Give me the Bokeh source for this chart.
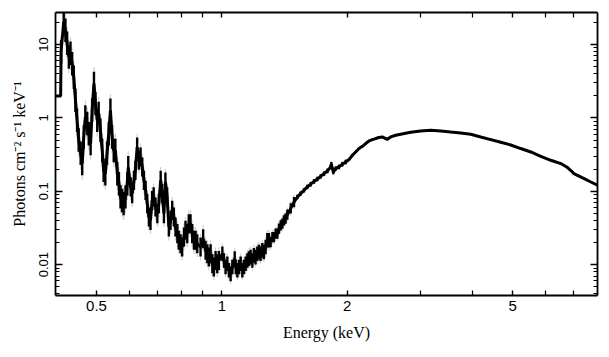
import numpy as np
from bokeh.plotting import figure
from bokeh.models import LogAxis, FixedTicker, CustomJSTickFormatter, Range1d, ColumnDataSource
from bokeh.embed import file_html
from bokeh.resources import INLINE

# ---- data ----
energy_kev = [
    0.399, 0.410, 0.411, 0.417, 0.421, 0.425, 0.429, 0.433, 0.437, 0.441,
    0.445, 0.449, 0.453, 0.458, 0.462, 0.466, 0.470, 0.475, 0.479, 0.484,
    0.488, 0.493, 0.497, 0.502, 0.506, 0.511, 0.516, 0.520, 0.525, 0.530,
    0.535, 0.540, 0.545, 0.550, 0.555, 0.561, 0.566, 0.571, 0.576, 0.581,
    0.587, 0.593, 0.596, 0.604, 0.609, 0.615, 0.620, 0.626, 0.632, 0.638,
    0.644, 0.650, 0.656, 0.662, 0.668, 0.674, 0.680, 0.686, 0.693, 0.700,
    0.706, 0.713, 0.719, 0.726, 0.732, 0.739, 0.746, 0.753, 0.760, 0.767,
    0.774, 0.782, 0.788, 0.796, 0.803, 0.811, 0.818, 0.826, 0.833, 0.841,
    0.849, 0.857, 0.865, 0.873, 0.889, 0.902, 0.914, 0.923, 0.931, 0.940,
    0.949, 0.957, 0.966, 0.975, 0.984, 1.003, 1.012, 1.021, 1.031, 1.040,
    1.050, 1.060, 1.074, 1.080, 1.090, 1.100, 1.110, 1.120, 1.130, 1.141,
    1.152, 1.162, 1.173, 1.184, 1.194, 1.205, 1.217, 1.228, 1.239, 1.251,
    1.262, 1.274, 1.286, 1.298, 1.310, 1.323, 1.334, 1.347, 1.360, 1.372,
    1.385, 1.398, 1.410, 1.423, 1.437, 1.464, 1.491, 1.519, 1.546, 1.575,
    1.605, 1.635, 1.665, 1.697, 1.728, 1.760, 1.793, 1.826, 1.833, 1.853,
    1.877, 1.912, 1.948, 1.984, 2.021, 2.059, 2.097, 2.136, 2.176, 2.216,
    2.257, 2.300, 2.342, 2.385, 2.430, 2.475, 2.498, 2.545, 2.616, 2.690,
    2.843, 3.004, 3.177, 3.357, 3.548, 3.750, 3.962, 4.189, 4.427, 4.680,
    4.945, 5.226, 5.525, 5.840, 6.171, 6.522, 6.769, 6.959, 7.010, 7.153,
    7.421, 7.700, 7.989,
]
photon_flux = [
    2.0, 2.0, 8.0, 20.4, 15.7, 10.4, 6.8, 7.6, 5.5, 3.6,
    1.74, 0.93, 0.50, 0.33, 0.24, 0.55, 1.03, 0.84, 0.61, 0.45,
    1.27, 2.95, 1.57, 0.93, 1.15, 0.68, 0.36, 0.193, 0.174, 0.33,
    0.61, 1.27, 0.55, 0.36, 0.36, 0.174, 0.127, 0.084, 0.075, 0.068,
    0.084, 0.127, 0.21, 0.115, 0.093, 0.141, 0.193, 0.40, 0.265, 0.294,
    0.215, 0.141, 0.103, 0.068, 0.0446, 0.0402, 0.075, 0.084, 0.061, 0.0496,
    0.068, 0.141, 0.093, 0.0496, 0.134, 0.084, 0.0326, 0.0402, 0.055, 0.0446,
    0.0326, 0.0265, 0.0215, 0.0193, 0.0174, 0.0238, 0.0294, 0.0265, 0.0362, 0.0362,
    0.0265, 0.0215, 0.0215, 0.0193, 0.0174, 0.0226, 0.0157, 0.0141, 0.0127, 0.0141,
    0.0103, 0.0093, 0.0114, 0.0103, 0.0114, 0.0141, 0.0114, 0.0093, 0.0103, 0.0084,
    0.0075, 0.0093, 0.0121, 0.0093, 0.0084, 0.0093, 0.0103, 0.0084, 0.0093, 0.0103,
    0.0114, 0.0121, 0.0127, 0.0114, 0.0134, 0.0127, 0.0141, 0.0149, 0.0141, 0.0157,
    0.0149, 0.0174, 0.0215, 0.0215, 0.0203, 0.0238, 0.0238, 0.0265, 0.0265, 0.031,
    0.0344, 0.0362, 0.0402, 0.0424, 0.048, 0.0586, 0.0714, 0.0836, 0.093, 0.103,
    0.115, 0.125, 0.136, 0.147, 0.160, 0.174, 0.189, 0.215, 0.234, 0.183,
    0.204, 0.215, 0.234, 0.251, 0.271, 0.310, 0.344, 0.383, 0.411, 0.448,
    0.486, 0.507, 0.524, 0.541, 0.551, 0.524, 0.512, 0.551, 0.581, 0.600,
    0.638, 0.665, 0.679, 0.665, 0.644, 0.624, 0.600, 0.551, 0.507, 0.466,
    0.428, 0.383, 0.344, 0.300, 0.265, 0.239, 0.211, 0.183, 0.174, 0.165,
    0.149, 0.134, 0.121,
]
# error-bar half-widths (in decades) for energy bands
err_band_edges_kev = [0.0, 0.4105, 0.60, 1.00, 1.30, 1.50, 2.00, 9.0]
err_band_halfwidth_dex = [0.0, 0.16, 0.13, 0.10, 0.07, 0.03, 0.012]

x_major_ticks = [0.5, 1, 2, 5]
x_tick_labels = ["0.5", "1", "2", "5"]
x_minor_ticks = [0.6, 0.7, 0.8, 0.9, 3, 4, 6, 7]
y_major_ticks = [0.01, 0.1, 1, 10]
y_tick_labels = ["0.01", "0.1", "1", "10"]
y_minor_ticks = [m * 10.0 ** k for k in range(-3, 2) for m in range(2, 10)]

x_label = "Energy (keV)"
y_label = "Photons cm\u207b\u00b2 s\u207b\u00b9 keV\u207b\u00b9"

# ---- build ----
E = np.array(energy_kev)
F = np.array(photon_flux)
idx = np.clip(np.searchsorted(err_band_edges_kev, E, side="right") - 1, 0, len(err_band_halfwidth_dex) - 1)
dex = np.array(err_band_halfwidth_dex)[idx]
src = ColumnDataSource(dict(
    e=E, f=F,
    lo=F * 10 ** (-dex), hi=F * 10 ** dex,
    glo=F * 10 ** (-1.4 * dex), ghi=F * 10 ** (1.4 * dex),
))

p = figure(width=609, height=357, x_axis_type="log", y_axis_type="log",
           x_range=Range1d(0.3985, 7.99), y_range=Range1d(0.0038, 27.4),
           output_backend="svg", toolbar_location=None,
           min_border_left=55, min_border_right=12, min_border_top=12, min_border_bottom=62)
p.xgrid.visible = False
p.ygrid.visible = False
p.outline_line_color = None
p.background_fill_color = "white"
p.border_fill_color = "white"

p.segment(x0="e", y0="glo", x1="e", y1="ghi", source=src, line_color="#d0d0d0", line_width=1.2)
p.segment(x0="e", y0="lo", x1="e", y1="hi", source=src, line_color="black", line_width=2.4)
p.line(x="e", y="f", source=src, line_color="black", line_width=3.0)

blank = CustomJSTickFormatter(code="return ''")
LABEL_JS = """
for (let i = 0; i < tick_vals.length; i++) {
    if (Math.abs(Math.log10(tick / tick_vals[i])) < 1e-6) { return tick_text[i]; }
}
return '';
"""

def style_axis(ax, ticks, minors, major_len, minor_len):
    ax.ticker = FixedTicker(ticks=ticks, minor_ticks=minors)
    ax.axis_line_color = "black"
    ax.axis_line_width = 1.8
    ax.major_tick_line_color = "black"
    ax.minor_tick_line_color = "black"
    ax.major_tick_line_width = 1.4
    ax.minor_tick_line_width = 1.2
    ax.major_tick_in = major_len
    ax.major_tick_out = 0
    ax.minor_tick_in = minor_len
    ax.minor_tick_out = 0

xa = p.xaxis[0]
style_axis(xa, x_major_ticks, x_minor_ticks, 5, 5)
xa.formatter = CustomJSTickFormatter(args=dict(tick_vals=x_major_ticks, tick_text=x_tick_labels), code=LABEL_JS)
xa.major_label_text_font = "Liberation Sans"
xa.major_label_text_font_size = "15px"
xa.major_label_text_color = "black"
xa.major_label_standoff = 5
xa.axis_label = x_label
xa.axis_label_text_font = "Liberation Serif"
xa.axis_label_text_font_size = "16px"
xa.axis_label_text_font_style = "normal"
xa.axis_label_text_color = "black"
xa.axis_label_standoff = 10

ya = p.yaxis[0]
style_axis(ya, y_major_ticks, y_minor_ticks, 7, 4)
ya.formatter = CustomJSTickFormatter(args=dict(tick_vals=y_major_ticks, tick_text=y_tick_labels), code=LABEL_JS)
ya.major_label_text_font = "Liberation Sans"
ya.major_label_text_font_size = "13px"
ya.major_label_text_color = "black"
ya.major_label_orientation = "parallel"
ya.major_label_standoff = 7
ya.axis_label = y_label
ya.axis_label_text_font = "Liberation Serif"
ya.axis_label_text_font_size = "16px"
ya.axis_label_text_font_style = "normal"
ya.axis_label_text_color = "black"
ya.axis_label_standoff = 9

top = LogAxis(formatter=blank, major_label_standoff=0, major_label_text_font_size="1px")
style_axis(top, x_major_ticks, x_minor_ticks, 5, 5)
p.add_layout(top, "above")
right = LogAxis(formatter=blank, major_label_standoff=0, major_label_text_font_size="1px")
style_axis(right, y_major_ticks, y_minor_ticks, 7, 4)
p.add_layout(right, "right")

open("out.html", "w").write(file_html(p, INLINE))
